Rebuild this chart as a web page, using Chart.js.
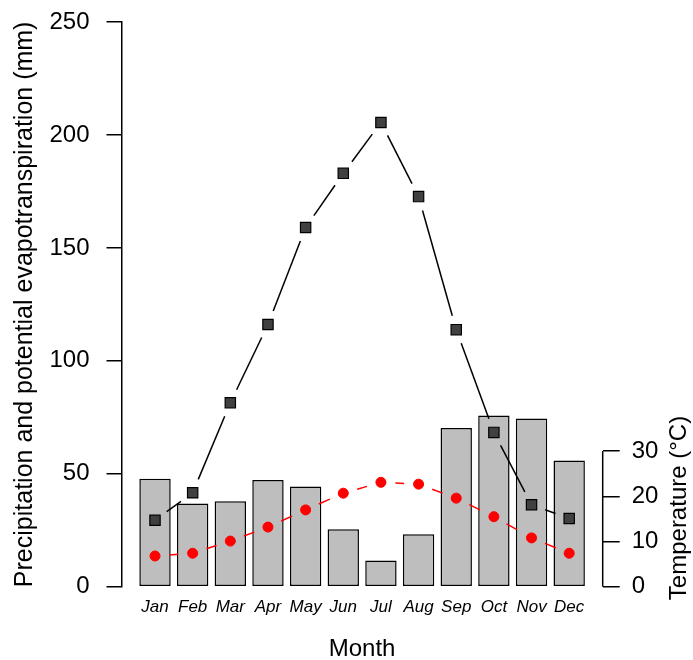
<!DOCTYPE html>
<html><head><meta charset="utf-8">
<script src="https://cdn.jsdelivr.net/npm/chart.js@4"></script>
<style>html,body{margin:0;padding:0;background:#fff}#wrap{width:693px;height:660px;position:relative}</style>
</head><body><div id="wrap"><canvas id="c" width="693" height="660"></canvas></div>
<script>
const months = ['Jan','Feb','Mar','Apr','May','Jun','Jul','Aug','Sep','Oct','Nov','Dec'];
const precipitation = [47.8,36.8,37.8,47.2,44.4,25.4,11.6,23.2,70.3,75.8,74.5,55.9];
const pet = [29.4,41.6,81.4,116.1,159.0,183.0,205.5,172.7,113.8,68.3,36.3,30.2];
const temperature = [6.8,7.4,10.1,13.2,17.0,20.7,23.1,22.7,19.6,15.5,10.8,7.4];
const mmTicks = [0,50,100,150,200,250];
const tempTicks = [0,10,20,30];

const FAMILY = "'Liberation Sans', Arial, Helvetica, sans-serif";

const gapLines = {
  id: 'gapLines',
  beforeDatasetDraw(chart, args) {
    const ds = chart.data.datasets[args.index];
    if (!ds.gapLine) return;
    const pts = args.meta.data;
    const ctx = chart.ctx;
    const g = ds.gapLine.gap;
    ctx.save();
    ctx.strokeStyle = ds.gapLine.color;
    ctx.lineWidth = ds.gapLine.width;
    ctx.setLineDash(ds.gapLine.dash || []);
    for (let i = 0; i < pts.length - 1; i++) {
      const a = pts[i], b = pts[i + 1];
      const dx = b.x - a.x, dy = b.y - a.y, d = Math.hypot(dx, dy);
      if (d <= 2 * g) continue;
      const ux = dx / d, uy = dy / d;
      ctx.beginPath();
      ctx.moveTo(a.x + ux * g, a.y + uy * g);
      ctx.lineTo(b.x - ux * g, b.y - uy * g);
      ctx.stroke();
    }
    ctx.restore();
  }
};

const rightAxisExtras = {
  id: 'rightAxisExtras',
  afterDraw(chart) {
    const s = chart.scales.y2;
    const ctx = chart.ctx;
    const x = chart.chartArea.right;
    ctx.save();
    ctx.strokeStyle = '#000';
    ctx.lineWidth = 1.5;
    ctx.beginPath();
    ctx.moveTo(x, s.getPixelForValue(tempTicks[0]));
    ctx.lineTo(x, s.getPixelForValue(tempTicks[tempTicks.length - 1]));
    ctx.stroke();
    ctx.translate(679, 508);
    ctx.rotate(-Math.PI / 2);
    ctx.fillStyle = '#000';
    ctx.font = '24px ' + FAMILY;
    ctx.textAlign = 'center';
    ctx.textBaseline = 'middle';
    ctx.fillText('Temperature (°C)', 0, 0);
    ctx.restore();
  }
};

new Chart(document.getElementById('c'), {
  data: {
    datasets: [
      {
        type: 'bar',
        data: months.map((m, i) => ({x: i + 1, y: precipitation[i]})),
        backgroundColor: '#bebebe',
        borderColor: '#000',
        borderWidth: 1.5,
        borderSkipped: false,
        barPercentage: 0.8333,
        categoryPercentage: 1,
        xAxisID: 'x', yAxisID: 'y',
        order: 3
      },
      {
        type: 'line',
        data: months.map((m, i) => ({x: i + 1, y: pet[i]})),
        showLine: false,
        pointStyle: 'rect',
        pointRadius: 7.3,
        pointBackgroundColor: '#404040',
        pointBorderColor: '#000',
        pointBorderWidth: 1.2,
        gapLine: {color: '#000', width: 1.5, gap: 14.5},
        xAxisID: 'x', yAxisID: 'y',
        order: 2
      },
      {
        type: 'line',
        data: months.map((m, i) => ({x: i + 1, y: temperature[i]})),
        showLine: false,
        pointStyle: 'circle',
        pointRadius: 5,
        pointBackgroundColor: '#ff0000',
        pointBorderColor: '#ff0000',
        pointBorderWidth: 1,
        gapLine: {color: '#ff0000', width: 1.5, gap: 14.5, dash: [12, 12]},
        xAxisID: 'x', yAxisID: 'y2',
        order: 1
      }
    ]
  },
  options: {
    responsive: false,
    devicePixelRatio: 1,
    animation: false,
    events: [],
    layout: {padding: {top: 22, left: 0, right: 0, bottom: 0}},
    plugins: {legend: {display: false}, tooltip: {enabled: false}},
    scales: {
      x: {
        type: 'linear',
        position: 'bottom',
        offset: false,
        min: 0.11, max: 12.89,
        afterBuildTicks: s => { s.ticks = months.map((m, i) => ({value: i + 1})); },
        afterFit: s => { s.height = 73.3; s.paddingLeft = 0; s.paddingRight = 0; },
        ticks: {
          callback: v => months[Math.round(v) - 1],
          autoSkip: false, maxRotation: 0, minRotation: 0,
          font: {family: FAMILY, size: 17, style: 'italic'},
          color: '#000', padding: 10
        },
        grid: {display: false, drawTicks: false, offset: false},
        border: {display: false},
        title: {display: true, text: 'Month', color: '#000', font: {family: FAMILY, size: 24}, padding: {top: 0, bottom: -4}}
      },
      y: {
        type: 'linear',
        position: 'left',
        min: 0, max: 250,
        afterBuildTicks: s => { s.ticks = mmTicks.map(v => ({value: v})); },
        afterFit: s => { s.width = 121.5; s.paddingTop = 0; s.paddingBottom = 0; },
        ticks: {color: '#000', font: {family: FAMILY, size: 24}, padding: 17},
        grid: {display: true, drawOnChartArea: false, drawTicks: true, tickLength: 15, color: '#000', lineWidth: 1.5},
        border: {display: true, color: '#000', width: 1.5},
        title: {display: true, text: 'Precipitation and potential evapotranspiration (mm)', color: '#000', font: {family: FAMILY, size: 25}, padding: {top: 10, bottom: 0}}
      },
      y2: {
        type: 'linear',
        position: 'right',
        min: 0, max: 125,
        afterBuildTicks: s => { s.ticks = tempTicks.map(v => ({value: v})); },
        afterFit: s => { s.width = 90.3; s.paddingTop = 0; s.paddingBottom = 0; },
        ticks: {color: '#000', font: {family: FAMILY, size: 24}, padding: 12},
        grid: {display: true, drawOnChartArea: false, drawTicks: true, tickLength: 17, color: '#000', lineWidth: 1.5},
        border: {display: false}
      }
    }
  },
  plugins: [gapLines, rightAxisExtras]
});
</script>
</body></html>
